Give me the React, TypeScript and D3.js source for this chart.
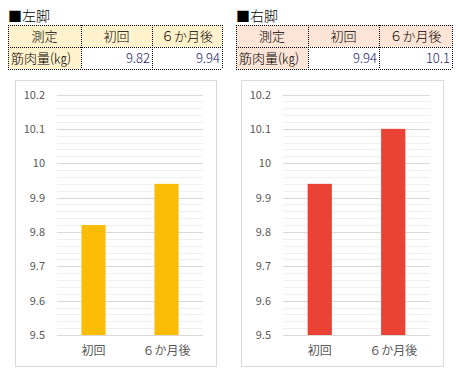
import React from 'react';
import * as d3 from 'd3';

const categories = ['初回', '６か月後'];
const leftValues = [9.82, 9.94];
const rightValues = [9.94, 10.1];
const yTicks = [9.5, 9.6, 9.7, 9.8, 9.9, 10, 10.1, 10.2];
const headerLabels = ['測定', '初回', '６か月後'];
const rowLabel = '筋肉量(㎏)';

const FONT = '"Noto Sans CJK JP", "Noto Sans", sans-serif';

const Table = ({ x, title, values, fill, cols }) => {
  const rows = [25, 47, 69];
  const edges = [x, ...cols];
  const dotted = { stroke: '#000', strokeWidth: 1, strokeDasharray: '1,1' };
  return (
    <g fontWeight={300}>
      <text x={x} y={21} fontSize={14} fontFamily={FONT} fill="#000">{'■' + title}</text>
      <rect x={edges[0]} y={rows[0]} width={edges[3] - edges[0]} height={rows[1] - rows[0]} fill={fill} />
      <rect x={edges[0]} y={rows[1]} width={edges[1] - edges[0]} height={rows[2] - rows[1]} fill={fill} />
      {rows.map((ry, i) => (
        <line key={'h' + i} x1={edges[0]} x2={edges[3]} y1={ry + 0.5} y2={ry + 0.5} {...dotted} />
      ))}
      {edges.map((ex, i) => (
        <line key={'v' + i} x1={ex + 0.5} x2={ex + 0.5} y1={rows[0]} y2={rows[2]} {...dotted} />
      ))}
      {headerLabels.map((h, i) => (
        <text key={h} x={(edges[i] + edges[i + 1]) / 2} y={41} textAnchor="middle" fontSize={13} fontFamily={FONT} fill="#000">{h}</text>
      ))}
      <text x={edges[0] + 3} y={63} fontSize={13} fontFamily={FONT} fill="#000">{rowLabel}</text>
      {values.map((v, i) => (
        <text key={i} x={edges[i + 2] - 2} y={63} textAnchor="end" fontSize={13} fontFamily={FONT} fill="#1c1c70">{v}</text>
      ))}
    </g>
  );
};

const Chart = ({ boxX, boxW, plotX0, plotX1, values, color }) => {
  const y = d3.scaleLinear().domain([9.5, 10.2]).range([335, 94.5]);
  const x = d3.scaleBand().domain(categories).range([plotX0, plotX1]).paddingInner(0.67).paddingOuter(0.335);
  const minor = d3.range(0, 36).map(i => 9.5 + i * 0.02).filter(v => Math.abs(v * 10 - Math.round(v * 10)) > 0.01);
  return (
    <g>
      <rect x={boxX + 0.5} y={80.5} width={boxW} height={286} fill="#fff" stroke="#d9d9d9" />
      {minor.map((v, i) => (
        <line key={'m' + i} x1={plotX0} x2={plotX1} y1={Math.round(y(v)) + 0.5} y2={Math.round(y(v)) + 0.5} stroke="#f0f0f0" />
      ))}
      {yTicks.map(t => (
        <g key={t}>
          <line x1={plotX0} x2={plotX1} y1={Math.round(y(t)) + 0.5} y2={Math.round(y(t)) + 0.5} stroke="#d9d9d9" />
          <text x={plotX0 - 12} y={y(t) + 4} textAnchor="end" fontSize={11} fontFamily={FONT} fill="#595959">{t}</text>
        </g>
      ))}
      {values.map((v, i) => (
        <rect key={i} x={x(categories[i])} y={y(v)} width={x.bandwidth()} height={y(9.5) - y(v)} fill={color} />
      ))}
      {categories.map(c => (
        <text key={c} x={x(c) + x.bandwidth() / 2} y={355} textAnchor="middle" fontSize={12} fontFamily={FONT} fill="#595959">{c}</text>
      ))}
    </g>
  );
};

export default function App() {
  return (
    <svg width={460} height={385} style={{ position: 'absolute', left: 0, top: 0, background: '#fff' }}>
      <Table x={8} title="左脚" values={leftValues} fill="#fff2cc" cols={[81, 152, 222]} />
      <Table x={236} title="右脚" values={rightValues} fill="#fce4d6" cols={[308, 379, 452]} />
      <Chart boxX={15} boxW={201} plotX0={57} plotX1={203} values={leftValues} color="#fbbc05" />
      <Chart boxX={241} boxW={202} plotX0={283} plotX1={430} values={rightValues} color="#ea4335" />
    </svg>
  );
}
